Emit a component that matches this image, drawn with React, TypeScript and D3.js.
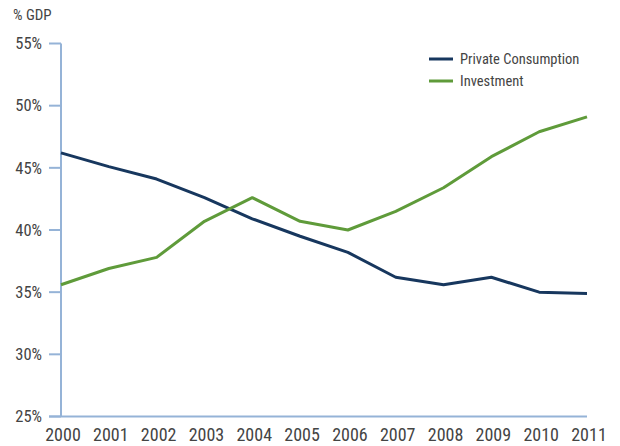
import React from "react";
import * as d3 from "d3";

const years = [2000, 2001, 2002, 2003, 2004, 2005, 2006, 2007, 2008, 2009, 2010, 2011];
const privateConsumption = [46.2, 45.1, 44.1, 42.6, 40.9, 39.5, 38.2, 36.2, 35.6, 36.2, 35.0, 34.9];
const investment = [35.6, 36.9, 37.8, 40.7, 42.6, 40.7, 40.0, 41.5, 43.4, 45.9, 47.9, 49.1];
const yTicks = [25, 30, 35, 40, 45, 50, 55];
const seriesNames = ["Private Consumption", "Investment"];
const seriesColors = ["#17375e", "#5f9b3a"];

const W = 620;
const H = 446;
const FONT = "'Liberation Sans Narrow', 'Arial Narrow', 'Roboto Condensed', sans-serif";

export default function App() {
  const x = d3.scaleLinear().domain([2000, 2011]).range([61, 587]);
  const y = d3.scaleLinear().domain([25, 55]).range([416.5, 43.5]);
  const line = d3
    .line<number>()
    .x((_, i) => x(years[i]))
    .y((d) => y(d));
  const series = [privateConsumption, investment];
  const axisColor = "#95b3d7";
  const textColor = "#444444";

  return (
    <svg
      width={W}
      height={H}
      style={{ position: "absolute", left: 0, top: 0, background: "#fff" }}
      fontFamily={FONT}
    >
      <text x={13} y={20} fontSize={15} fill={textColor}>% GDP</text>
      {/* y axis */}
      <line x1={x(2000)} x2={x(2000)} y1={y(55)} y2={y(25)} stroke={axisColor} strokeWidth={2} />
      {yTicks.map((t) => (
        <g key={t}>
          <line x1={x(2000) - 12} x2={x(2000)} y1={y(t)} y2={y(t)} stroke={axisColor} strokeWidth={2} />
          <text x={42} y={y(t)} dy="0.35em" textAnchor="end" fontSize={16.5} fill={textColor}>
            {t}%
          </text>
        </g>
      ))}
      {/* x axis */}
      <line x1={x(2000) - 12} x2={x(2011)} y1={y(25)} y2={y(25)} stroke={axisColor} strokeWidth={2} />
      {years.map((yr) => (
        <text key={yr} x={x(yr) + 2} y={441} textAnchor="middle" fontSize={18} fill={textColor}>
          {yr}
        </text>
      ))}
      {series.map((s, i) => (
        <path key={i} d={line(s) || ""} fill="none" stroke={seriesColors[i]} strokeWidth={3} strokeLinejoin="round" />
      ))}
      {/* legend */}
      {seriesNames.map((n, i) => (
        <g key={n} transform={`translate(429, ${59 + i * 22})`}>
          <line x1={0} x2={24} y1={0} y2={0} stroke={seriesColors[i]} strokeWidth={3} />
          <text x={31} y={0} dy="0.35em" fontSize={14.5} fill={textColor}>
            {n}
          </text>
        </g>
      ))}
    </svg>
  );
}
